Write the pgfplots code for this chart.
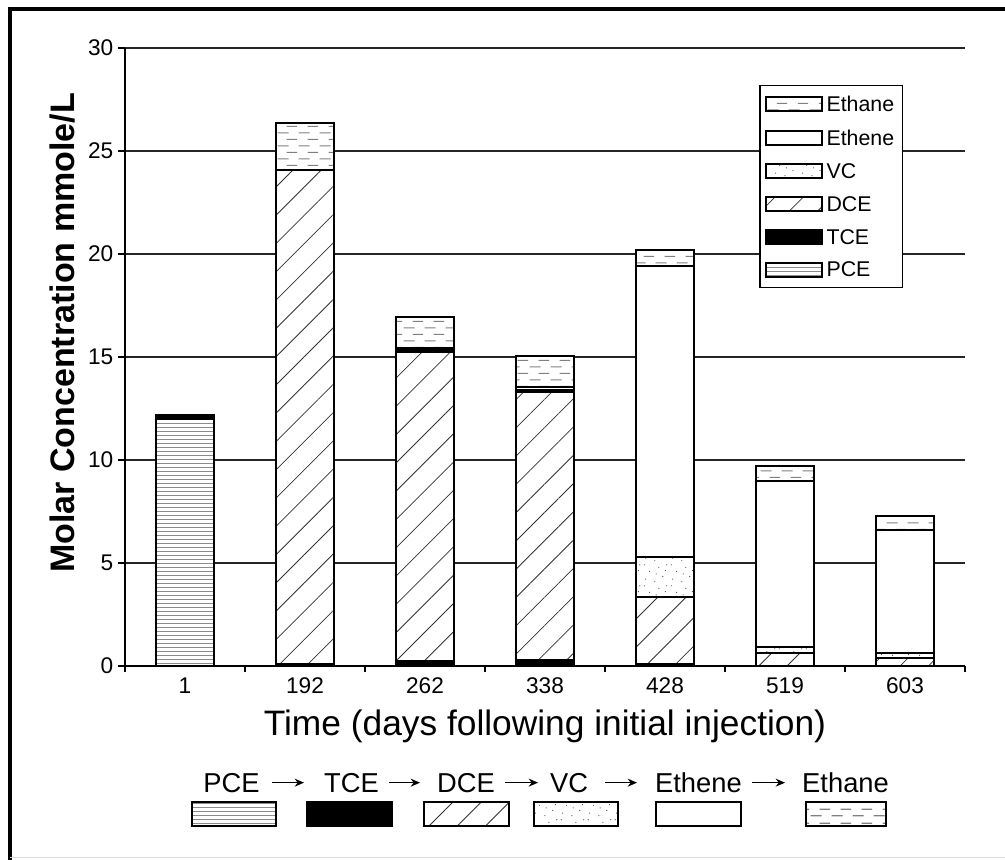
\documentclass[border=0pt]{standalone}
\usepackage{pgfplots}
\pgfplotsset{compat=1.18}
\usepackage{pgfplotstable}
\usepackage{fontspec}
\setmainfont{Liberation Sans}
\usetikzlibrary{patterns.meta,arrows.meta}

\tikzdeclarepattern{
  name=vcdots,
  type=uncolored,
  bounding box={(0pt,0pt) and (20pt,16pt)},
  tile size={(20pt,16pt)},
  code={
    \fill (2pt,3pt) circle (0.45pt);
    \fill (9pt,1pt) circle (0.45pt);
    \fill (15pt,5pt) circle (0.45pt);
    \fill (5pt,9pt) circle (0.45pt);
    \fill (12pt,12pt) circle (0.45pt);
    \fill (18pt,14pt) circle (0.45pt);
    \fill (1pt,14pt) circle (0.45pt);
    \fill (17pt,9.5pt) circle (0.45pt);
    \fill (10pt,7pt) circle (0.45pt);
  }
}
\tikzdeclarepattern{
  name=ethdash,
  type=uncolored,
  bounding box={(0pt,0pt) and (16pt,10pt)},
  tile size={(16pt,10pt)},
  code={
    \draw[line width=0.8pt] (0.5pt,2.5pt) -- (9pt,2.5pt);
    \draw[line width=0.8pt] (7.5pt,7.5pt) -- (15.5pt,7.5pt);
  }
}

\tikzset{
  pcestyle/.style={draw=black, line width=1.5pt, preaction={fill=white}, pattern color=black!45, pattern={Lines[angle=0,distance=3pt,line width=0.7pt]}},
  tcestyle/.style={draw=black, line width=1.5pt, fill=black},
  dcestyle/.style={draw=black, line width=1.5pt, preaction={fill=white}, pattern color=black!80, pattern={Lines[angle=45,distance=15pt,line width=0.6pt]}},
  vcstyle/.style={draw=black, line width=1.5pt, preaction={fill=white}, pattern color=black!70, pattern=vcdots},
  ethenestyle/.style={draw=black, line width=1.5pt, fill=white},
  ethanestyle/.style={draw=black, line width=1.5pt, preaction={fill=white}, pattern color=black!50, pattern=ethdash},
}

\pgfplotstableread{
x pce tce dce vc ethene ethane
0 12.00 0.20 0.00 0.00 0.00 0.00
1 0.00 0.12 23.96 0.00 0.00 2.28
2 0.00 0.25 15.01 0.09 0.10 1.49
3 0.00 0.30 13.00 0.10 0.16 1.49
4 0.00 0.10 3.25 1.95 14.10 0.80
5 0.00 0.00 0.63 0.31 8.04 0.74
6 0.00 0.00 0.38 0.25 5.97 0.68
}\data

\begin{document}
\begin{tikzpicture}
\useasboundingbox (-93.75pt,-144.75pt) rectangle (660pt,499.5pt);
\begin{axis}[
  scale only axis, width=630pt, height=463.5pt,
  ybar stacked, bar width=43.5pt,
  xmin=-0.5, xmax=6.5, ymin=0, ymax=30,
  xtick={0,...,6}, xticklabels={1,192,262,338,428,519,603},
  minor xtick={-0.5,0.5,...,6.5},
  ytick={0,5,...,30},
  ymajorgrids,
  major grid style={line width=0.9pt, black!85},
  axis x line*=bottom, axis y line*=left,
  axis line style={line width=1pt, black},
  tick align=outside,
  major tick length=5.25pt, minor tick length=4.5pt,
  tick style={line width=1pt, black},
  major x tick style={draw=none},
  /pgf/number format/assume math mode=true,
  ticklabel style={font=\fontsize{17}{17}\selectfont},
  xlabel={Time (days following initial injection)},
  xlabel style={at={(axis description cs:0.5,0)}, anchor=base, yshift=-51.75pt, font=\fontsize{26.5}{26.5}\selectfont},
  ylabel={Molar Concentration mmole/L},
  ylabel style={at={(axis description cs:-0.0743,0.539)}, anchor=center, font=\fontsize{25.5}{25.5}\selectfont\bfseries},
  legend image code/.code={\draw[#1] (0pt,-5.5pt) rectangle (42.5pt,5pt);},
  reverse legend,
  legend cell align=left,
  legend style={at={(0.926,0.940)}, anchor=north east, draw=black, line width=1pt, fill=white,
    font=\fontsize{16}{16}\selectfont, nodes={inner ysep=1.5pt, inner xsep=2.5pt, text depth=0pt},
    inner xsep=3.5pt, inner ysep=6.5pt, row sep=10.5pt},
]
\addplot[pcestyle] table[x=x, y=pce] {\data};
\addplot[tcestyle] table[x=x, y=tce] {\data};
\addplot[dcestyle] table[x=x, y=dce] {\data};
\addplot[vcstyle] table[x=x, y=vc] {\data};
\addplot[ethenestyle] table[x=x, y=ethene] {\data};
\addplot[ethanestyle] table[x=x, y=ethane] {\data};
\legend{PCE,TCE,DCE,VC,Ethene,Ethane}
\end{axis}

% bottom pathway legend
\begin{scope}[every node/.style={anchor=base, inner sep=0pt, font=\fontsize{20.5}{20.5}\selectfont}]
\node at (79.9pt,-94.5pt) {PCE};
\node at (169.9pt,-94.5pt) {TCE};
\node at (255.75pt,-94.5pt) {DCE};
\node at (333pt,-94.5pt) {VC};
\node at (430.1pt,-94.5pt) {Ethene};
\node at (540.4pt,-94.5pt) {Ethane};
\end{scope}
\begin{scope}[line width=1pt, -{Stealth[length=7pt,width=6pt]}]
\draw (110.25pt,-87.5pt) -- (134.25pt,-87.5pt);
\draw (198pt,-87.5pt) -- (221.25pt,-87.5pt);
\draw (285pt,-87.5pt) -- (309.75pt,-87.5pt);
\draw (360pt,-87.5pt) -- (384pt,-87.5pt);
\draw (470.25pt,-87.5pt) -- (495pt,-87.5pt);
\end{scope}
\draw[pcestyle] (49.9pt,-102pt) rectangle (113.25pt,-120pt);
\draw[tcestyle] (136.5pt,-102pt) rectangle (200.25pt,-120pt);
\draw[dcestyle] (224.25pt,-102pt) rectangle (287.7pt,-120pt);
\draw[vcstyle] (306.75pt,-102pt) rectangle (369.4pt,-120pt);
\draw[ethenestyle] (398.25pt,-102pt) rectangle (462pt,-120pt);
\draw[ethanestyle] (510.75pt,-102pt) rectangle (570.75pt,-120pt);

% outer frame
\draw[line width=3pt, line join=miter] (-86.6pt,-146pt) -- (-86.6pt,492.4pt) -- (662pt,492.4pt);
\draw[black!15, line width=0.75pt] (-86pt,-143.25pt) -- (662pt,-143.25pt);
\end{tikzpicture}
\end{document}
